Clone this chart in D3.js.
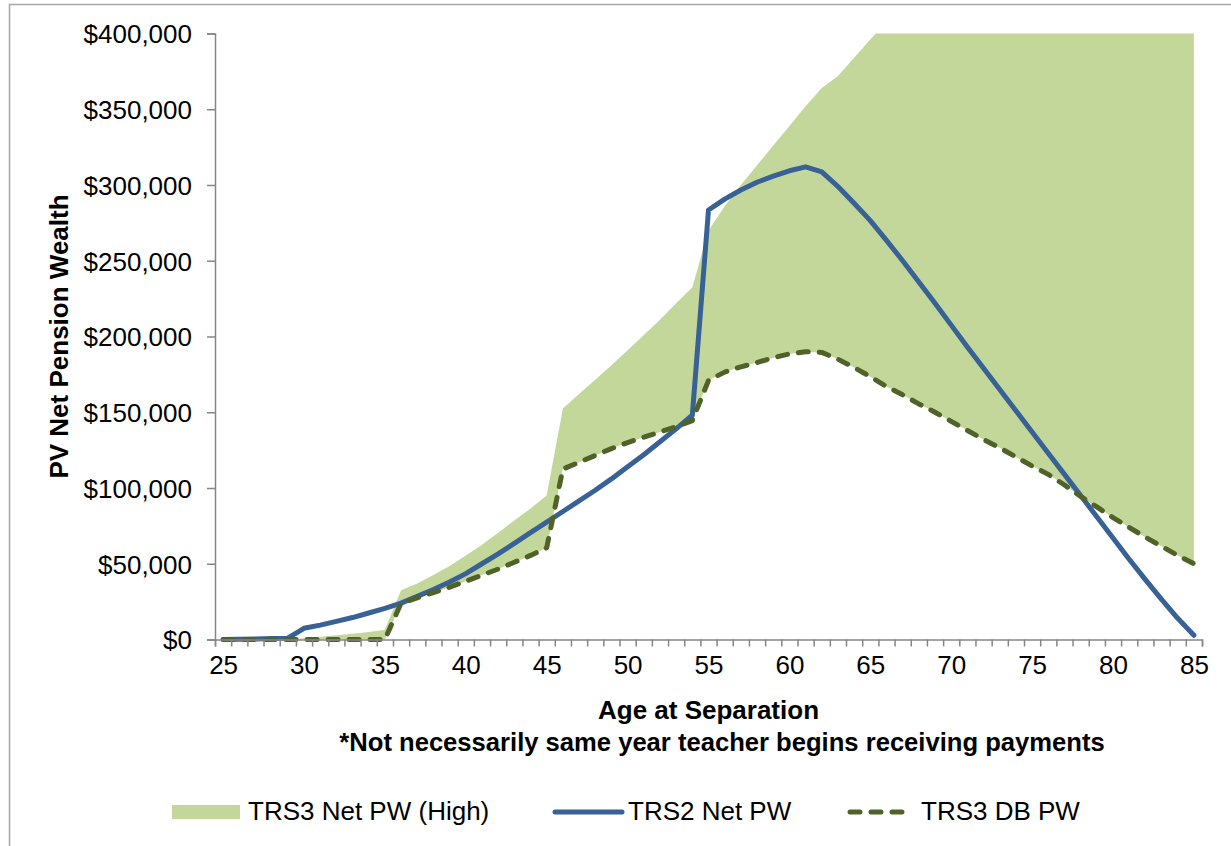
<!DOCTYPE html>
<html>
<head>
<meta charset="utf-8">
<script src="https://cdn.jsdelivr.net/npm/d3@7"></script>
<style>
    body { margin: 0; background: #fff; }
    text { font-family: "Liberation Sans", Arial, sans-serif; fill: #000; }
</style>
</head>
<body>
<div id="chart"></div>
<script>
// ages at separation, one category per year
var ages = d3.range(25, 86);
var xTickLabels = [25, 30, 35, 40, 45, 50, 55, 60, 65, 70, 75, 80, 85];
var yTicks = [0, 50000, 100000, 150000, 200000, 250000, 300000, 350000, 400000];

// TRS2 Net PW (solid blue)
var trs2NetPW = [0, 200, 400, 600, 900, 7400, 9500, 12000, 14500, 17500,
    20500, 24000, 28500, 33000, 38000, 43500, 50000, 56500, 63500, 70500,
    77500, 84500, 91500, 98500, 106000, 114000, 122000, 130500, 139000, 148000,
    283500, 290700, 296700, 301800, 305900, 309400, 312000, 308700, 299000, 288000,
    276500, 263500, 250000, 236000, 222000, 207500, 193000, 179000, 165000, 151000,
    137000, 123000, 109000, 95000, 81000, 67000, 53000, 39500, 26500, 14000,
    2800];

// TRS3 DB PW (dashed olive)
var trs3DbPW = [0, 0, 0, 0, 0, 0, 0, 0, 0, 0,
    0, 24000, 27500, 31000, 34500, 38500, 42500, 46500, 51000, 55500,
    60500, 112500, 117000, 121500, 126000, 130000, 133500, 137000, 140500, 144500,
    171000, 176500, 180000, 182800, 186000, 188500, 190000, 189500, 185000, 179500,
    173500, 167000, 161500, 155500, 150000, 144000, 138000, 132000, 126500, 120500,
    114500, 109000, 102000, 94500, 87500, 80500, 74000, 67500, 61500, 55500,
    50000];

// TRS3 Net PW (High), upper edge of the green band (runs off the top after 65)
var trs3HighPW = [0, 0, 0, 0, 0, 800, 1800, 2800, 3800, 5000,
    6500, 32500, 37000, 42500, 48500, 55500, 62500, 70500, 78500, 86500,
    95000, 152500, 162000, 171500, 181000, 191000, 201000, 211000, 222000, 232500,
    270000, 286000, 300000, 313000, 326000, 339000, 352000, 364000, 372000, 384000,
    396000, 408000, 420000, 431000, 442000, 453000, 463000, 473000, 483000, 492000,
    501000, 510000, 518000, 526000, 534000, 541000, 548000, 555000, 561000, 567000,
    573000];

var width = 1231, height = 846;
var plotLeft = 215, plotRight = 1202, plotTop = 33.5, plotBottom = 639.5;
var axisColor = "#868686";

var svg = d3.select("#chart").append("svg")
    .attr("width", width)
    .attr("height", height);

// outer chart frame (right and bottom edges sit off the page)
svg.append("rect")
    .attr("x", 9.5).attr("y", 4.5)
    .attr("width", 1300).attr("height", 900)
    .attr("fill", "none")
    .attr("stroke", "#a6a6a6")
    .attr("stroke-width", 1.5);

var x = d3.scaleLinear().domain([24.5, 85.5]).range([plotLeft, plotRight]);
var y = d3.scaleLinear().domain([0, 400000]).range([plotBottom, plotTop]);

var rows = ages.map(function (a, i) {
    return { age: a, high: trs3HighPW[i], db: trs3DbPW[i], trs2: trs2NetPW[i] };
});

svg.append("clipPath").attr("id", "plot-clip")
    .append("rect")
    .attr("x", plotLeft).attr("y", plotTop)
    .attr("width", plotRight - plotLeft).attr("height", plotBottom - plotTop + 4);

var plot = svg.append("g").attr("clip-path", "url(#plot-clip)");

plot.append("path")
    .datum(rows)
    .attr("fill", "#c4d79b")
    .attr("d", d3.area()
        .x(function (d) { return x(d.age); })
        .y0(function (d) { return y(d.db); })
        .y1(function (d) { return y(d.high); }));

// axes
var yAxis = svg.append("g")
    .attr("transform", "translate(" + plotLeft + ",0)")
    .call(d3.axisLeft(y).tickValues(yTicks).tickSize(8).tickPadding(15)
        .tickFormat(function (d) { return "$" + d3.format(",")(d); }));

var xAxis = svg.append("g")
    .attr("transform", "translate(0," + plotBottom + ")")
    .call(d3.axisBottom(x).tickValues(d3.range(24.5, 86, 1)).tickSize(7).tickFormat(""));

var xLabels = svg.append("g")
    .attr("transform", "translate(0," + plotBottom + ")")
    .call(d3.axisBottom(x).tickValues(xTickLabels).tickSize(0).tickPadding(16));
xLabels.select(".domain").remove();

[yAxis, xAxis].forEach(function (g) {
    g.select(".domain").attr("stroke", axisColor).attr("stroke-width", 1.5);
    g.selectAll(".tick line").attr("stroke", axisColor).attr("stroke-width", 1.5);
});
svg.selectAll(".tick text")
    .attr("font-family", "Liberation Sans, Arial, sans-serif")
    .attr("font-size", 26)
    .attr("fill", "#000");
yAxis.selectAll(".tick text").attr("dy", "0.36em");

// lines
plot.append("path")
    .datum(rows)
    .attr("fill", "none")
    .attr("stroke", "#386195")
    .attr("stroke-width", 5)
    .attr("stroke-linejoin", "round")
    .attr("stroke-linecap", "round")
    .attr("d", d3.line()
        .x(function (d) { return x(d.age); })
        .y(function (d) { return y(d.trs2); }));

plot.append("path")
    .datum(rows)
    .attr("fill", "none")
    .attr("stroke", "#4f6228")
    .attr("stroke-width", 5)
    .attr("stroke-dasharray", "10,11")
    .attr("stroke-linejoin", "round")
    .attr("stroke-linecap", "round")
    .attr("d", d3.line()
        .x(function (d) { return x(d.age); })
        .y(function (d) { return y(d.db); }));

// titles
svg.append("text")
    .attr("transform", "translate(68," + ((plotTop + plotBottom) / 2) + ") rotate(-90)")
    .attr("text-anchor", "middle")
    .attr("font-size", 26)
    .attr("font-weight", "bold")
    .text("PV Net Pension Wealth");

svg.append("text")
    .attr("x", (plotLeft + plotRight) / 2).attr("y", 719)
    .attr("text-anchor", "middle")
    .attr("font-size", 26)
    .attr("font-weight", "bold")
    .text("Age at Separation");

svg.append("text")
    .attr("x", 722).attr("y", 751)
    .attr("text-anchor", "middle")
    .attr("font-size", 25.6)
    .attr("font-weight", "bold")
    .text("*Not necessarily same year teacher begins receiving payments");

// legend
var legend = svg.append("g");
legend.append("rect")
    .attr("x", 172).attr("y", 805).attr("width", 68).attr("height", 14)
    .attr("fill", "#c4d79b");
legend.append("text").attr("x", 248).attr("y", 820).attr("font-size", 26)
    .text("TRS3 Net PW (High)");

legend.append("line")
    .attr("x1", 555).attr("x2", 622).attr("y1", 812).attr("y2", 812)
    .attr("stroke", "#386195").attr("stroke-width", 5)
    .attr("stroke-linecap", "round");
legend.append("text").attr("x", 628).attr("y", 820).attr("font-size", 26)
    .text("TRS2 Net PW");

legend.append("line")
    .attr("x1", 850).attr("x2", 910).attr("y1", 812).attr("y2", 812)
    .attr("stroke", "#4f6228").attr("stroke-width", 5)
    .attr("stroke-dasharray", "10,11")
    .attr("stroke-linecap", "round");
legend.append("text").attr("x", 921).attr("y", 820).attr("font-size", 26)
    .text("TRS3 DB PW");
</script>
</body>
</html>
